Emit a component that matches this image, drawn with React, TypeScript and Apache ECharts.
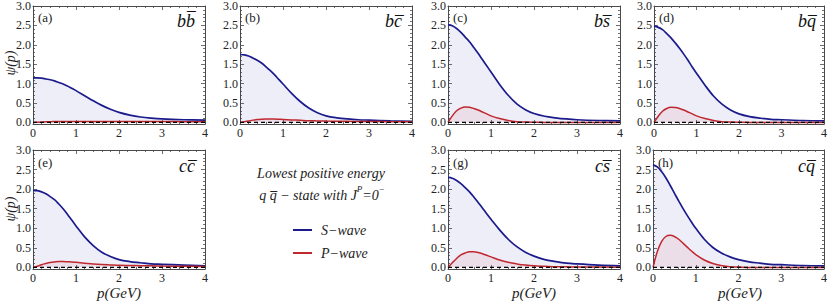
import React, { useEffect, useRef } from 'react';
import * as echarts from 'echarts';

// momentum grid (GeV)
const P_GRID = [0, 0.1, 0.2, 0.3, 0.4, 0.5, 0.6, 0.7, 0.8, 0.9, 1.0, 1.2, 1.4, 1.6, 1.8, 2.0, 2.25, 2.5, 2.75, 3.0, 3.5, 4.0];

const PANEL_TAGS = ['(a)', '(b)', '(c)', '(d)', '(e)', '(g)', '(h)'];
const PANEL_STATES = ['bb\u0305', 'bc\u0305', 'bs\u0305', 'bq\u0305', 'cc\u0305', 'cs\u0305', 'cq\u0305'];

// S-wave values
const S_BB = [1.15, 1.15, 1.14, 1.12, 1.10, 1.07, 1.03, 0.99, 0.94, 0.88, 0.82, 0.69, 0.56, 0.44, 0.34, 0.26, 0.19, 0.14, 0.11, 0.09, 0.07, 0.06];
const S_BC = [1.75, 1.74, 1.71, 1.66, 1.60, 1.53, 1.44, 1.34, 1.23, 1.11, 0.99, 0.75, 0.54, 0.37, 0.25, 0.17, 0.12, 0.09, 0.07, 0.06, 0.04, 0.03];
const S_BS = [2.52, 2.49, 2.42, 2.32, 2.20, 2.08, 1.93, 1.78, 1.62, 1.46, 1.30, 0.98, 0.70, 0.48, 0.33, 0.23, 0.16, 0.12, 0.09, 0.07, 0.05, 0.04];
const S_BQ = [2.48, 2.45, 2.39, 2.29, 2.18, 2.05, 1.91, 1.76, 1.60, 1.43, 1.27, 0.96, 0.68, 0.47, 0.32, 0.22, 0.15, 0.11, 0.08, 0.07, 0.05, 0.04];
const S_CC = [1.97, 1.96, 1.93, 1.88, 1.81, 1.73, 1.62, 1.50, 1.36, 1.21, 1.06, 0.78, 0.56, 0.39, 0.28, 0.20, 0.15, 0.12, 0.09, 0.08, 0.06, 0.04];
const S_CS = [2.30, 2.28, 2.22, 2.14, 2.04, 1.93, 1.80, 1.66, 1.52, 1.37, 1.23, 0.96, 0.72, 0.53, 0.39, 0.29, 0.20, 0.15, 0.11, 0.09, 0.06, 0.04];
const S_CQ = [2.62, 2.57, 2.45, 2.29, 2.10, 1.90, 1.70, 1.51, 1.33, 1.16, 1.00, 0.72, 0.51, 0.37, 0.27, 0.20, 0.14, 0.11, 0.08, 0.07, 0.05, 0.04];

// P-wave values
const P_BB = [0, 0.005, 0.01, 0.015, 0.02, 0.022, 0.024, 0.025, 0.026, 0.026, 0.026, 0.026, 0.026, 0.025, 0.025, 0.024, 0.024, 0.023, 0.022, 0.022, 0.021, 0.02];
const P_BC = [0, 0.02, 0.04, 0.06, 0.075, 0.085, 0.09, 0.09, 0.088, 0.083, 0.077, 0.065, 0.055, 0.045, 0.04, 0.035, 0.03, 0.028, 0.025, 0.023, 0.02, 0.018];
const P_BS = [0, 0.17, 0.30, 0.37, 0.40, 0.39, 0.36, 0.32, 0.27, 0.22, 0.17, 0.10, 0.05, 0.02, 0.01, 0.005, 0, 0, 0, 0, 0, 0];
const P_BQ = [0, 0.16, 0.29, 0.36, 0.39, 0.385, 0.36, 0.32, 0.27, 0.22, 0.17, 0.10, 0.05, 0.02, 0.01, 0.005, 0, 0, 0, 0, 0, 0];
const P_CC = [0, 0.03, 0.07, 0.10, 0.125, 0.14, 0.15, 0.15, 0.145, 0.14, 0.13, 0.11, 0.09, 0.075, 0.065, 0.055, 0.05, 0.045, 0.04, 0.035, 0.03, 0.025];
const P_CS = [0, 0.12, 0.23, 0.32, 0.37, 0.40, 0.40, 0.38, 0.35, 0.31, 0.27, 0.19, 0.13, 0.09, 0.06, 0.04, 0.03, 0.02, 0.015, 0.01, 0.01, 0.005];
const P_CQ = [0, 0.40, 0.66, 0.79, 0.82, 0.79, 0.72, 0.62, 0.52, 0.42, 0.33, 0.19, 0.10, 0.05, 0.02, 0.01, 0, 0, 0, 0, 0, 0];

const S_SERIES = [S_BB, S_BC, S_BS, S_BQ, S_CC, S_CS, S_CQ];
const P_SERIES = [P_BB, P_BC, P_BS, P_BQ, P_CC, P_CS, P_CQ];

const X_MIN = 0, X_MAX = 4;
const Y_MIN = -0.04, Y_MAX = 3;

const LEGEND_NAMES = ['S\u2212wave', 'P\u2212wave'];

const SERIF = 'Liberation Serif';
const BLUE = '#1b1b8c';
const RED = '#c0282f';
const FRAME = '#4a4a4a';

const LEFTS = [33, 240, 448, 654, 33, 448, 653];
const TOPS = [5, 5, 5, 5, 150, 150, 150];
const W = 172;
const H = 119;

export default function App() {
  const ref = useRef<HTMLDivElement>(null);
  useEffect(() => {
    if (!ref.current) return;
    const chart = echarts.init(ref.current, undefined, { renderer: 'svg' });
    const grids: any[] = [];
    const xAxes: any[] = [];
    const yAxes: any[] = [];
    const series: any[] = [];
    const graphics: any[] = [];
    const tickStyle = { color: FRAME, width: 0.8 };
    const txt = (o: any) => ({ fontFamily: SERIF, fill: '#222', ...o });

    for (let i = 0; i < 7; i++) {
      grids.push({ left: LEFTS[i], top: TOPS[i], width: W, height: H, show: false, containLabel: false });
      const xBase = {
        type: 'value', gridIndex: i, min: X_MIN, max: X_MAX, interval: 1,
        axisLine: { show: true, onZero: false, lineStyle: { color: FRAME, width: 1 } },
        axisTick: { show: true, inside: true, length: 4, lineStyle: tickStyle },
        minorTick: { show: true, splitNumber: 5, length: 2, lineStyle: tickStyle },
        splitLine: { show: false },
      };
      xAxes.push({
        ...xBase, position: 'bottom',
        axisLabel: { show: true, margin: 3, fontFamily: SERIF, fontSize: 12, color: '#222' },
      });
      xAxes.push({ ...xBase, position: 'top', axisLabel: { show: false } });
      const yBase = {
        type: 'value', gridIndex: i, min: Y_MIN, max: Y_MAX, minInterval: 0.5, maxInterval: 0.5, splitNumber: 6,
        axisLine: { show: true, onZero: false, lineStyle: { color: FRAME, width: 1 } },
        axisTick: { show: true, inside: true, length: 4, lineStyle: tickStyle },
        minorTick: { show: true, splitNumber: 5, length: 2, lineStyle: tickStyle },
        splitLine: { show: false },
      };
      yAxes.push({
        ...yBase, position: 'left',
        axisLabel: {
          show: true, margin: 2, fontFamily: SERIF, fontSize: 12, color: '#222',
          formatter: (v: number) => (v < -1e-9 ? '' : v.toFixed(1)),
        },
      });
      yAxes.push({ ...yBase, position: 'right', axisLabel: { show: false } });

      const xi = 2 * i;
      series.push({
        name: LEGEND_NAMES[0], type: 'line', xAxisIndex: xi, yAxisIndex: xi,
        data: P_GRID.map((p, k) => [p, S_SERIES[i][k]]),
        smooth: 0.35, symbol: 'none', z: 2,
        lineStyle: { color: BLUE, width: 1.7 }, itemStyle: { color: BLUE },
        areaStyle: { color: 'rgba(40,40,170,0.11)', origin: 'auto' },
      });
      series.push({
        name: LEGEND_NAMES[1], type: 'line', xAxisIndex: xi, yAxisIndex: xi,
        data: P_GRID.map((p, k) => [p, P_SERIES[i][k]]),
        smooth: 0.35, symbol: 'none', z: 3,
        lineStyle: { color: RED, width: 1.5 }, itemStyle: { color: RED },
        areaStyle: { color: 'rgba(200,40,60,0.11)', origin: 'auto' },
      });
      series.push({
        type: 'line', xAxisIndex: xi, yAxisIndex: xi,
        data: [[X_MIN, 0], [X_MAX, 0]], symbol: 'none', z: 4, silent: true,
        lineStyle: { color: '#000', width: 1.3, type: [4, 3] },
      });

      graphics.push({
        type: 'text', left: LEFTS[i] + 5, top: TOPS[i] + 6,
        style: txt({ text: PANEL_TAGS[i], fontSize: 13 }),
      });
      graphics.push({
        type: 'text', x: LEFTS[i] + W - 10, y: TOPS[i] + 16,
        style: txt({
          text: PANEL_STATES[i], fontSize: 18, fontStyle: 'italic', fill: '#111',
          align: 'right', verticalAlign: 'middle',
        }),
      });
    }

    // axis titles
    [63, 209].forEach((cy) => {
      graphics.push({
        type: 'text', x: 10, y: cy, rotation: Math.PI / 2,
        style: txt({ text: '\u03c8(p)', fontSize: 14, fontStyle: 'italic', align: 'center', verticalAlign: 'middle' }),
      });
    });
    [119, 534, 740].forEach((cx) => {
      graphics.push({
        type: 'text', x: cx, y: 293,
        style: txt({ text: 'p(GeV)', fontSize: 15, fontStyle: 'italic', align: 'center', verticalAlign: 'middle' }),
      });
    });

    // legend caption
    graphics.push({
      type: 'text', x: 321, y: 173,
      style: txt({ text: 'Lowest positive energy', fontSize: 14, fontStyle: 'italic', align: 'center', verticalAlign: 'middle' }),
    });
    graphics.push({
      type: 'text', x: 322, y: 193,
      style: {
        text: '{a|q q\u0305 \u2212 state with J}{s|P}{a|=0}{s|\u2212}',
        align: 'center', verticalAlign: 'middle',
        rich: {
          a: { fontFamily: SERIF, fontStyle: 'italic', fontSize: 14, fill: '#222', lineHeight: 18, verticalAlign: 'bottom' },
          s: { fontFamily: SERIF, fontStyle: 'italic', fontSize: 9, fill: '#222', lineHeight: 18, verticalAlign: 'top' },
        },
      },
    });

    chart.setOption({
      animation: false,
      backgroundColor: '#fff',
      grid: grids,
      xAxis: xAxes,
      yAxis: yAxes,
      series,
      legend: {
        data: LEGEND_NAMES, orient: 'vertical', left: 288, top: 217,
        icon: 'rect', itemWidth: 19, itemHeight: 2, itemGap: 7, selectedMode: false,
        textStyle: { fontFamily: SERIF, fontStyle: 'italic', fontSize: 14, color: '#222', lineHeight: 16, padding: [0, 0, 0, 4] },
      },
      graphic: graphics,
    });
    return () => chart.dispose();
  }, []);
  return <div ref={ref} style={{ width: 830, height: 301, position: 'absolute', left: 0, top: 0 }} />;
}
